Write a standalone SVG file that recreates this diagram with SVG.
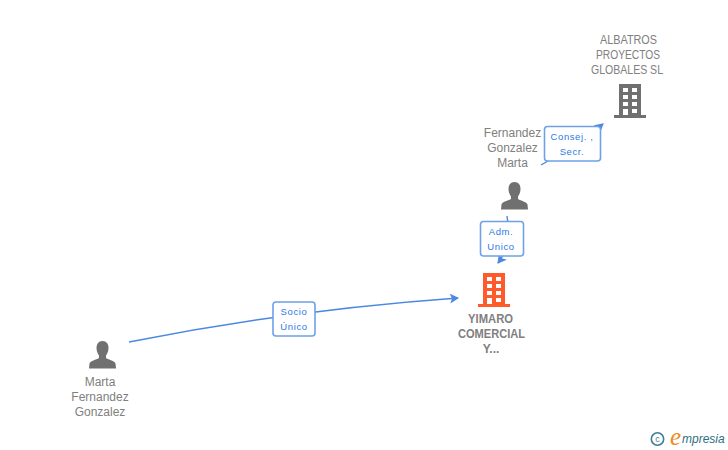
<svg xmlns="http://www.w3.org/2000/svg" width="728" height="450" viewBox="0 0 728 450">
<style>
text{font-family:"Liberation Sans",Arial,sans-serif}
.n{font-size:12px;fill:#808080;text-anchor:middle}
.b{font-weight:bold}
.l{font-size:9.500px;fill:#2f78e6;text-anchor:middle;letter-spacing:.6px}
.c{fill:none;stroke:#4a88e2;stroke-width:1.400}
.box{fill:#fff;stroke:#6ea1e8;stroke-width:1.600}
.g{fill:#707070}.o{fill:#ff5a2b}
.w{fill:#fff}
</style>
<defs>
<marker id="a" markerWidth="11" markerHeight="11" refX="8" refY="5" orient="auto" markerUnits="userSpaceOnUse"><path d="M0 0L9 5L0 10L2 5Z" fill="#4a88e2"/></marker>
<g id="bld"><path d="M5 0H27V31H32V34H0V31H5Z"/><path class="w" d="M9 4h5v4H9zM18 4h5v4h-5zM9 11h5v4H9zM18 11h5v4h-5zM9 18h5v4H9zM18 18h5v4h-5zM9 25h5v6H9zM18 25h5v4h-5z"/></g>
<path id="per" d="M13.500 0C9.500 0 7.500 3 7.500 7C7.500 10.500 9 13 10 14.500V17C7 19 1.500 19.500 .5 22.500L0 27.500H27L26.500 22.500C25.500 19.500 20 19 17 17V14.500C18 13 19.500 10.500 19.500 7C19.500 3 17.500 0 13.500 0Z"/>
</defs>
<g id="connectors">
<path class="c" d="M129 342Q290 310 458 298" marker-end="url(#a)"/>
<path class="c" d="M507 216Q512 245 498 263" marker-end="url(#a)"/>
<path class="c" d="M541 165Q580 143 603 124" marker-end="url(#a)"/>
</g>
<g id="node-albatros" class="g"><use href="#bld" x="614" y="84"/>
<text class="n" x="628.500" y="44" textLength="57" lengthAdjust="spacingAndGlyphs">ALBATROS</text><text class="n" x="628" y="59" textLength="64" lengthAdjust="spacingAndGlyphs">PROYECTOS</text><text class="n" x="627" y="74" textLength="72" lengthAdjust="spacingAndGlyphs">GLOBALES SL</text></g>
<g id="node-fernandez" class="g"><use href="#per" x="501" y="182"/>
<text class="n" x="512.500" y="137">Fernandez</text><text class="n" x="512.500" y="152">Gonzalez</text><text class="n" x="512.500" y="167">Marta</text></g>
<g id="node-yimaro" class="o"><use href="#bld" x="478" y="273"/>
<text class="n b" x="490.500" y="323" textLength="45" lengthAdjust="spacingAndGlyphs">YIMARO</text><text class="n b" x="491.500" y="338" textLength="67" lengthAdjust="spacingAndGlyphs">COMERCIAL</text><text class="n b" x="491" y="353">Y...</text></g>
<g id="node-marta" class="g"><use href="#per" x="89" y="341"/>
<text class="n" x="100" y="386">Marta</text><text class="n" x="100" y="401">Fernandez</text><text class="n" x="100" y="416">Gonzalez</text></g>
<g id="label-consej"><rect class="box" x="544.500" y="126.500" width="56" height="34.500" rx="3"/><text class="l" x="572" y="140">Consej. ,</text><text class="l" x="572" y="155">Secr.</text></g>
<g id="label-adm"><rect class="box" x="480.500" y="221.500" width="43" height="34.500" rx="3"/><text class="l" x="501" y="235">Adm.</text><text class="l" x="501" y="250">Unico</text></g>
<g id="label-socio"><rect class="box" x="273" y="302" width="42" height="34" rx="3"/><text class="l" x="294" y="315">Socio</text><text class="l" x="294" y="330">Único</text></g>
<g id="logo"><circle cx="657.500" cy="439" r="6.200" fill="none" stroke="#3f7f93" stroke-width="1.600"/><text x="657.500" y="442" font-size="9" fill="#3f7f93" text-anchor="middle">c</text>
<text x="670" y="445" font-size="25" font-style="italic" fill="#f08a24" style="font-family:'Liberation Serif',serif">e</text><text x="682" y="443" font-size="12" font-style="italic" fill="#2f6f80">mpresia</text></g>
</svg>
